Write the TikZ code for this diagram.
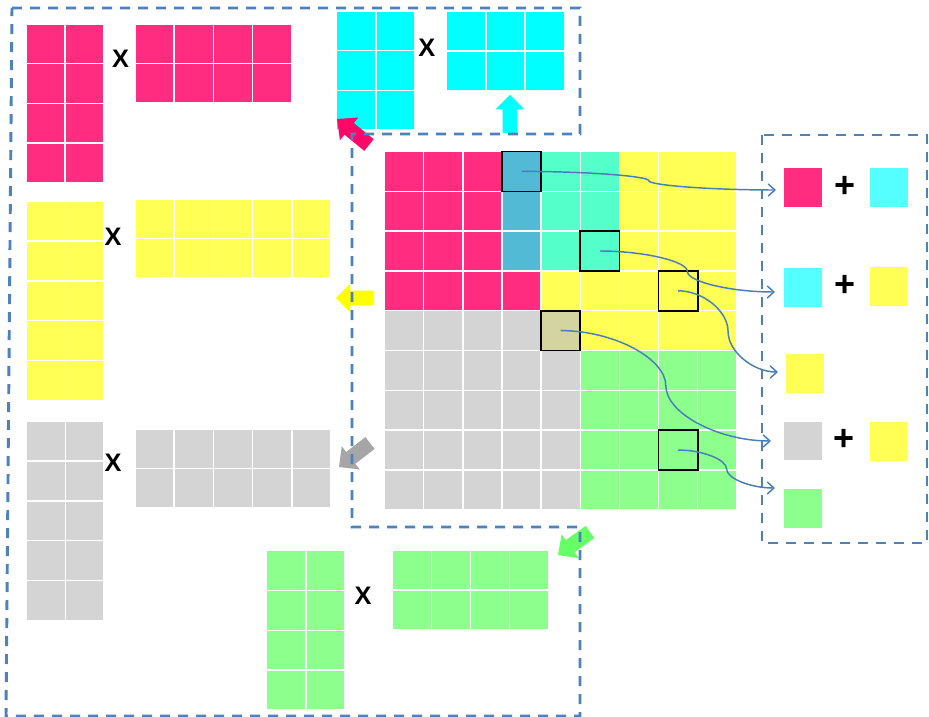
\documentclass[tikz,border=0pt]{standalone}
\usepackage{fontspec}
\setmainfont{Liberation Sans}
\usetikzlibrary{calc,arrows.meta}
\definecolor{pinkc}{HTML}{FF2C80}
\definecolor{cyanc}{HTML}{00FFFF}
\definecolor{lcyan}{HTML}{55FFFF}
\definecolor{steelc}{HTML}{52BAD5}
\definecolor{aquac}{HTML}{55FFCA}
\definecolor{yellowc}{HTML}{FFFF55}
\definecolor{grayc}{HTML}{D4D4D4}
\definecolor{greenc}{HTML}{8CFF8C}
\definecolor{olivec}{HTML}{D4D4A0}
\definecolor{dashc}{HTML}{4F81BD}
\definecolor{connc}{HTML}{4A7EBB}
\definecolor{apink}{HTML}{FF0868}
\definecolor{acyan}{HTML}{00FFFF}
\definecolor{ayellow}{HTML}{FFFF00}
\definecolor{agray}{HTML}{A6A6A6}
\definecolor{agreen}{HTML}{66FF66}
\tikzset{
  cell/.style={draw=white, line width=1.1pt},
  hlbox/.style={draw=black, line width=1.2pt, minimum width=29.36pt, minimum height=29.85pt, inner sep=0pt},
  sq/.style={minimum width=28.5pt, minimum height=29pt, inner sep=0pt},
  timeslbl/.style={font=\bfseries\fontsize{19}{19}\selectfont, inner sep=0pt},
  pluslbl/.style={font=\bfseries\fontsize{27}{27}\selectfont, inner sep=0pt},
  dashline/.style={draw=dashc, line width=2.2pt, dash pattern=on 7.5pt off 6pt},
  conn/.style={draw=connc, line width=1.1pt, -{Straight Barb[length=5pt,width=9pt]}},
}
% grid: x y ncols nrows cw ch color
\newcommand\mgrid[7]{%
  \foreach \ci in {1,...,#3}{\foreach \ri in {1,...,#4}{%
    \draw[cell, fill=#7] ({#1+(\ci-1)*#5},{#2+(\ri-1)*#6}) rectangle ++(#5,#6);}}}
% main grid cells: color, col list, row list
\newcommand\mcells[3]{%
  \foreach \ci in {#2}{\foreach \ri in {#3}{%
    \draw[cell, fill=#1] ({384.5+\ci*39.15},{151.5+\ri*39.8}) rectangle ++(39.15,39.8);}}}
% block arrow: tail, tip, color
\newcommand\blockarrow[3]{%
  \coordinate (#1m) at ($(#1)!0.62!(#2)$);
  \fill[#3] ($(#1)!5.6pt!90:(#2)$) -- ($(#1m)!5.6pt!90:(#2)$) -- ($(#1m)!11pt!90:(#2)$)
    -- (#2) -- ($(#1m)!11pt!-90:(#2)$) -- ($(#1m)!5.6pt!-90:(#2)$) -- ($(#1)!5.6pt!-90:(#2)$) -- cycle;}
% S-shaped curved connector
\newcommand\sconn[2]{%
  \draw[conn] let \p1=(#1), \p2=(#2) in (\p1)
    .. controls ({(3*\x1+\x2)/4},\y1) and ({(\x1+\x2)/2},{(3*\y1+\y2)/4}) .. ({(\x1+\x2)/2},{(\y1+\y2)/2})
    .. controls ({(\x1+\x2)/2},{(\y1+3*\y2)/4}) and ({(\x1+3*\x2)/4},\y2) .. (\p2);}
\begin{document}
\begin{tikzpicture}[x=0.75pt,y=-0.75pt]
\useasboundingbox (0,0) rectangle (929,717);
\fill[white] (0,0) rectangle (929,717);

% ---- left matrices ----
\mgrid{26}{24}{2}{4}{38.8}{39.7}{pinkc}
\mgrid{135}{24}{4}{2}{39.2}{39.5}{pinkc}
\node[timeslbl] (x1) at (120.5,59) {X};

\mgrid{336.7}{11}{2}{3}{39.15}{39.7}{cyanc}
\mgrid{446.7}{11}{3}{2}{39.2}{40}{cyanc}
\node[timeslbl] (x2) at (426.7,48) {X};

\mgrid{26.7}{201}{2}{5}{38.7}{39.9}{yellowc}
\mgrid{135}{199}{5}{2}{39.2}{39.3}{yellowc}
\node[timeslbl] (x3) at (113,237) {X};

\mgrid{26.7}{421}{2}{5}{38.7}{39.9}{grayc}
\mgrid{135}{429}{5}{2}{39.2}{39.3}{grayc}
\node[timeslbl] (x4) at (113,463) {X};

\mgrid{266.7}{550.7}{2}{4}{39.15}{39.8}{greenc}
\mgrid{392.3}{550.7}{4}{2}{39}{39.3}{greenc}
\node[timeslbl] (x5) at (363,596) {X};

% ---- main grid ----
\mcells{pinkc}{0,1,2}{0,1,2}
\mcells{pinkc}{0,1,2,3}{3}
\mcells{steelc}{3}{0,1,2}
\mcells{aquac}{4,5}{0,1,2}
\mcells{yellowc}{6,7,8}{0,1,2}
\mcells{yellowc}{4,5,6,7,8}{3}
\mcells{yellowc}{5,6,7,8}{4}
\mcells{olivec}{4}{4}
\mcells{grayc}{0,1,2,3}{4}
\mcells{grayc}{0,1,2,3,4}{5,6,7,8}
\mcells{greenc}{5,6,7,8}{5,6,7,8}

\node[hlbox] (h1) at ({384.5+3.5*39.15},{151.5+0.5*39.8}) {};
\node[hlbox] (h2) at ({384.5+5.5*39.15},{151.5+2.5*39.8}) {};
\node[hlbox] (h3) at ({384.5+7.5*39.15},{151.5+3.5*39.8}) {};
\node[hlbox] (h4) at ({384.5+4.5*39.15},{151.5+4.5*39.8}) {};
\node[hlbox] (h5) at ({384.5+7.5*39.15},{151.5+7.5*39.8}) {};

% ---- right panel ----
\node[sq, fill=pinkc] (r1a) at (803,187.5) {};
\node[pluslbl] (p1) at (845,187) {+};
\node[sq, fill=lcyan] (r1b) at (889,187.5) {};
\node[sq, fill=lcyan] (r2a) at (803,287.5) {};
\node[pluslbl] (p2) at (845,286) {+};
\node[sq, fill=yellowc] (r2b) at (888.5,286.5) {};
\node[sq, fill=yellowc] (r3) at (805,373.5) {};
\node[sq, fill=grayc] (r4a) at (803,441) {};
\node[pluslbl] (p4) at (844,440) {+};
\node[sq, fill=yellowc] (r4b) at (888.5,441.5) {};
\node[sq, fill=greenc] (r5) at (803,508.5) {};

% ---- connectors ----
\coordinate (e1) at (776,190);
\coordinate (e2) at (775,292);
\coordinate (e3) at (778,372);
\coordinate (e4) at (771,441);
\coordinate (e5) at (775,488);
\sconn{h1.center}{e1}
\sconn{h2.center}{e2}
\sconn{h3.center}{e3}
\sconn{h4.center}{e4}
\sconn{h5.center}{e5}

% ---- block arrows ----
\coordinate (pkt) at (369,145); \coordinate (pkh) at (337,119);
\coordinate (cyt) at (510,133); \coordinate (cyh) at (510,95);
\coordinate (ylt) at (374,298); \coordinate (ylh) at (336,298);
\coordinate (gyt) at (370,443); \coordinate (gyh) at (339,467);
\coordinate (gnt) at (590,532); \coordinate (gnh) at (558,555);
\blockarrow{pkt}{pkh}{apink}
\blockarrow{cyt}{cyh}{acyan}
\blockarrow{ylt}{ylh}{ayellow}
\blockarrow{gyt}{gyh}{agray}
\blockarrow{gnt}{gnh}{agreen}

% ---- dashed frames ----
\draw[dashline] (12,8) -- (580,8) -- (580,134) -- (352,134) -- (352,527) -- (580,527) -- (580,716) -- (6,716) -- cycle;
\draw[dashline] (762,135) rectangle (927,543);
\end{tikzpicture}
\end{document}
